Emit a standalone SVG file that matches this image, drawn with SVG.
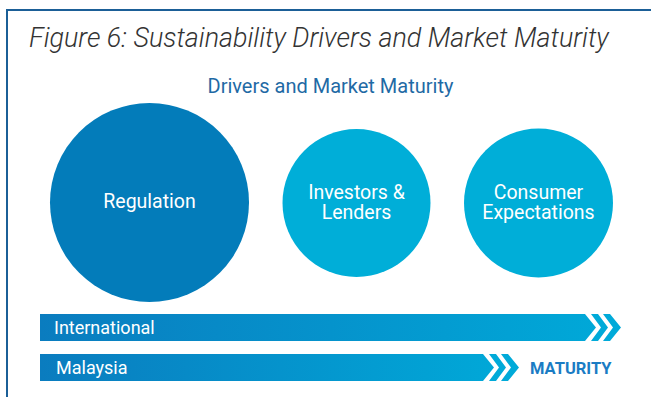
<svg xmlns="http://www.w3.org/2000/svg" width="651" height="397" viewBox="0 0 651 397">
<defs>
<linearGradient id="barGrad2" gradientUnits="userSpaceOnUse" x1="40" y1="0" x2="520" y2="0">
<stop offset="0" stop-color="#0a7cbf"/>
<stop offset="1" stop-color="#00aad9"/>
</linearGradient>
<linearGradient id="barGrad1" gradientUnits="userSpaceOnUse" x1="40" y1="0" x2="622" y2="0">
<stop offset="0" stop-color="#0a7cbf"/>
<stop offset="1" stop-color="#00aad9"/>
</linearGradient>
</defs>
<style>
.frame{fill:none;stroke:#1b5f97;stroke-width:2}
.title{font-family:Roboto,"Liberation Sans",sans-serif;font-style:italic;font-weight:300;font-size:26.9px;fill:#333}
.sub{font-family:Roboto,"Liberation Sans",sans-serif;font-size:20px;fill:#1f6aa5}
.ctext{font-family:Roboto,"Liberation Sans",sans-serif;font-size:19.5px;fill:#fff;text-anchor:middle}
.btext{font-family:Roboto,"Liberation Sans",sans-serif;font-size:18px;fill:#fff}
.mat{font-family:Roboto,"Liberation Sans",sans-serif;font-size:16.5px;font-weight:bold;fill:#1a7cc4}
</style>
<rect width="651" height="397" fill="#fff"/>
<path class="frame" d="M7,400 V10 H660"/>
<text class="title" x="29" y="47">Figure 6: Sustainability Drivers and Market Maturity</text>
<text class="sub" x="330.5" y="93" text-anchor="middle">Drivers and Market Maturity</text>
<g id="regulation">
<circle cx="149.5" cy="202.5" r="99.5" fill="#037cba"/>
<text class="ctext" x="149.5" y="208">Regulation</text>
</g>
<g id="investors">
<circle cx="356.5" cy="203" r="74" fill="#00aed8"/>
<text class="ctext" x="356.5" y="198.5">Investors &amp;</text>
<text class="ctext" x="356.5" y="219">Lenders</text>
</g>
<g id="consumer">
<circle cx="538.5" cy="203" r="74.5" fill="#00aed8"/>
<text class="ctext" x="538.5" y="198.5">Consumer</text>
<text class="ctext" x="538.5" y="219">Expectations</text>
</g>
<g id="international">
<polygon points="40,314 585,314 596,327.5 585,341 40,341" fill="url(#barGrad1)"/>
<polygon points="591,314 598,314 608,327.5 598,341 591,341 601,327.5" fill="#00aad9"/>
<polygon points="603,314 610,314 621,327.5 610,341 603,341 613,327.5" fill="#00aad9"/>
<text class="btext" x="54" y="334">International</text>
</g>
<g id="malaysia">
<polygon points="40,354 483,354 494,367.5 483,381 40,381" fill="url(#barGrad2)"/>
<polygon points="489,354 496,354 506,367.5 496,381 489,381 499,367.5" fill="#00aad9"/>
<polygon points="501,354 508,354 519,367.5 508,381 501,381 511,367.5" fill="#00aad9"/>
<text class="btext" x="56" y="374">Malaysia</text>
</g>
<text class="mat" x="530" y="374">MATURITY</text>
</svg>
